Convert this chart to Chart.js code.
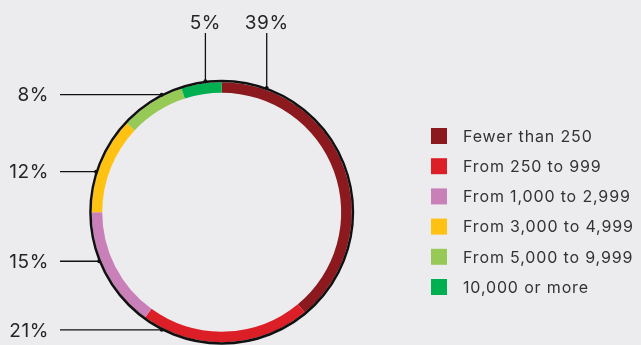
<!DOCTYPE html>
<html><head><meta charset="utf-8">
<script src="https://cdn.jsdelivr.net/npm/chart.js@4"></script>
<style>
html,body{margin:0;padding:0;background:#ECECEF;overflow:hidden;width:641px;height:345px}
#wrap{position:absolute;left:0;top:0;width:641px;height:360px}
</style></head><body>
<div id="wrap"><canvas id="c"></canvas></div>
<script>
const categories = ['Fewer than 250','From 250 to 999','From 1,000 to 2,999','From 3,000 to 4,999','From 5,000 to 9,999','10,000 or more'];
const shares = [39, 21, 15, 12, 8, 5];
const shareLabels = ['39%', '21%', '15%', '12%', '8%', '5%'];
const colors = ['#8B191D', '#DC1F27', '#C980B9', '#FFC112', '#97C957', '#00AF4F'];
// leader layout: which side the label goes and where along its segment the leader touches
const leaderSide = ['top', 'left', 'left', 'left', 'left', 'top'];
const leaderFrac = [0.142, 0.881, 0.596, 0.414, 0.686, 0.606];

const FONT = '"Inter", "Noto Sans", sans-serif';

const annot = {
  id: 'annot',
  afterDatasetsDraw(chart) {
    const ctx = chart.ctx;
    const meta = chart.getDatasetMeta(0);
    const a0 = meta.data[0];
    const cx = a0.x, cy = a0.y, R = a0.outerRadius;
    ctx.save();
    ctx.beginPath();
    ctx.arc(cx, cy, R + 1.25, 0, Math.PI * 2);
    ctx.lineWidth = 2.5;
    ctx.strokeStyle = '#111';
    ctx.stroke();
    const Ra = R + 2;
    ctx.font = '19px ' + FONT;
    ctx.letterSpacing = '0.6px';
    ctx.fillStyle = '#252525';
    meta.data.forEach((arc, i) => {
      const ang = arc.startAngle + (arc.endAngle - arc.startAngle) * leaderFrac[i];
      const px = cx + Ra * Math.cos(ang), py = cy + Ra * Math.sin(ang);
      ctx.strokeStyle = '#111';
      ctx.lineWidth = 1.3;
      ctx.beginPath();
      if (leaderSide[i] === 'left') {
        ctx.moveTo(px, py); ctx.lineTo(60, py); ctx.stroke();
        ctx.textAlign = 'right'; ctx.textBaseline = 'middle';
        ctx.fillText(shareLabels[i], 49, py + 1);
      } else {
        ctx.moveTo(px, py); ctx.lineTo(px, 33); ctx.stroke();
        ctx.textAlign = 'center'; ctx.textBaseline = 'middle';
        ctx.fillText(shareLabels[i], px, 23);
      }
      ctx.beginPath(); ctx.arc(px, py, 2, 0, Math.PI * 2); ctx.fillStyle = '#111'; ctx.fill();
      ctx.fillStyle = '#252525';
    });
    // legend
    ctx.font = '16px ' + FONT;
    ctx.letterSpacing = '0.85px';
    ctx.textAlign = 'left'; ctx.textBaseline = 'middle';
    categories.forEach((c, i) => {
      const yc = 136 + i * 30.2;
      ctx.fillStyle = colors[i];
      ctx.fillRect(431, yc - 8, 16, 16);
      ctx.fillStyle = '#333';
      ctx.fillText(c, 463, yc + 1);
    });
    ctx.restore();
  }
};

new Chart(document.getElementById('c'), {
  type: 'doughnut',
  data: {
    labels: categories,
    datasets: [{ data: shares, backgroundColor: colors, borderWidth: 0, hoverOffset: 0 }]
  },
  options: {
    responsive: true,
    maintainAspectRatio: false,
    animation: false,
    events: [],
    cutout: '91.9%',
    layout: { padding: { left: 91.7, top: 82.2, right: 289.3, bottom: 17.8 } },
    plugins: { legend: { display: false }, tooltip: { enabled: false } }
  },
  plugins: [annot]
});
</script>
</body></html>
